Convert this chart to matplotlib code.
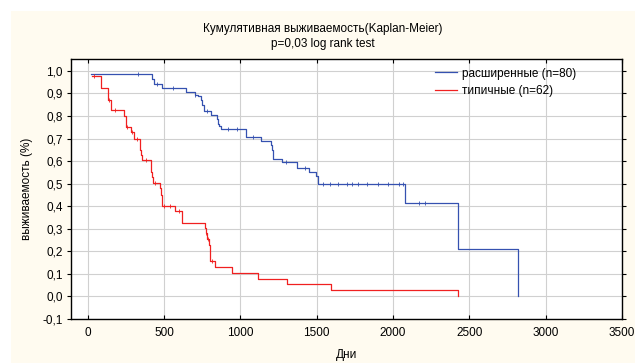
import matplotlib
matplotlib.use('Agg')
import matplotlib.pyplot as plt
from matplotlib.patches import Rectangle
from matplotlib.ticker import FuncFormatter, MultipleLocator

plt.rcParams['font.family'] = ['Liberation Sans', 'DejaVu Sans']
plt.rcParams['font.size'] = 8.5

# --- dati ---
title_lines = ['Кумулятивная выживаемость(Kaplan-Meier)', 'p=0,03 log rank test']
x_label = 'Дни'
y_label = 'выживаемость (%)'

ext_label = 'расширенные (n=80)'
ext_t = [23, 419, 434, 488, 641, 700, 724, 740, 750, 762, 809, 845, 852, 858, 871,
         1035, 1135, 1203, 1210, 1216, 1229, 1275, 1369, 1450, 1494, 1511, 2077, 2424, 2821]
ext_s = [0.987, 0.965, 0.940, 0.925, 0.906, 0.894, 0.890, 0.869, 0.847, 0.822, 0.806, 0.788, 0.766, 0.755, 0.742,
         0.707, 0.688, 0.670, 0.648, 0.611, 0.611, 0.596, 0.571, 0.551, 0.533, 0.498, 0.415, 0.209, 0.0]
ext_cens_t = [330, 455, 560, 700, 780, 920, 980, 1080, 1300, 1420, 1540, 1590, 1640, 1700, 1733,
              1768, 1830, 1900, 1965, 2042, 2064, 2172, 2210]

typ_label = 'типичные (n=62)'
typ_t = [30, 88, 134, 150, 237, 248, 253, 285, 303, 340, 349, 353, 414, 419, 427,
         471, 478, 484, 488, 569, 619, 766, 772, 783, 794, 801, 832, 947, 1115, 1307, 1592, 2428]
typ_s = [0.979, 0.925, 0.873, 0.825, 0.802, 0.780, 0.751, 0.729, 0.700, 0.648, 0.626, 0.604, 0.552, 0.527, 0.504,
         0.479, 0.449, 0.427, 0.402, 0.380, 0.327, 0.302, 0.280, 0.253, 0.228, 0.155, 0.128, 0.103, 0.078, 0.052, 0.027, 0.0]
typ_cens_t = [40, 140, 180, 260, 290, 320, 380, 440, 500, 540, 600, 775, 790, 812]

x_ticks = [0, 500, 1000, 1500, 2000, 2500, 3000, 3500]

blue = '#3551b0'
red = '#f02020'


def surv_at(t, times, surv):
    val = 1.0
    for ti, si in zip(times, surv):
        if ti <= t:
            val = si
    return val


fig = plt.figure(figsize=(6.35, 3.63), dpi=100, facecolor='white')
fig.add_artist(Rectangle((11 / 635, 0), 1, 1 - 11 / 363, transform=fig.transFigure,
                         facecolor='#fffbf0', edgecolor='none', zorder=-10))

ax = fig.add_axes([71 / 635, 1 - 318.7 / 363, 551 / 635, (318.7 - 59) / 363])
ax.set_zorder(1)
ax.set_facecolor('white')

ax.step(ext_t, ext_s, where='post', color=blue, lw=0.9, label=ext_label, zorder=3)
ax.step(typ_t, typ_s, where='post', color=red, lw=0.9, label=typ_label, zorder=3)

# censored observations
ax.plot(ext_cens_t, [surv_at(t, ext_t, ext_s) for t in ext_cens_t], ls='none',
        marker='|', ms=2.5, mew=0.6, color=blue, zorder=4)
ax.plot(typ_cens_t, [surv_at(t, typ_t, typ_s) for t in typ_cens_t], ls='none',
        marker='|', ms=2.5, mew=0.6, color=red, zorder=4)

ax.set_xlim(-110, 3500)
ax.set_ylim(-0.1, 1.053)
ax.set_xticks(x_ticks)
ax.yaxis.set_major_locator(MultipleLocator(0.1))
ax.yaxis.set_major_formatter(FuncFormatter(lambda v, p: f'{v:.1f}'.replace('.', ',').replace('-0,0', '0,0')))

ax.grid(True, color='#d0d0d0', lw=0.8, ls='-')
ax.set_axisbelow(True)
for sp in ax.spines.values():
    sp.set_linewidth(1.0)
    sp.set_color('black')

ax.tick_params(axis='x', direction='in', top=True, length=3, width=0.8, pad=6)
ax.tick_params(axis='y', direction='out', length=3, width=0.8, pad=3, right=True)

ax.set_xlabel(x_label, labelpad=7)
ax.set_ylabel(y_label, labelpad=7)

fig.text(323 / 635, 1 - 29 / 363, title_lines[0], ha='center', va='center')
fig.text(323 / 635, 1 - 44 / 363, title_lines[1], ha='center', va='center')

ax.legend(loc='upper left', bbox_to_anchor=(0.66, 0.967), frameon=False,
          borderpad=0, borderaxespad=0, handlelength=1.9, handletextpad=0.45,
          labelspacing=0.45)

fig.savefig('out.png', dpi=100, facecolor=fig.get_facecolor())
